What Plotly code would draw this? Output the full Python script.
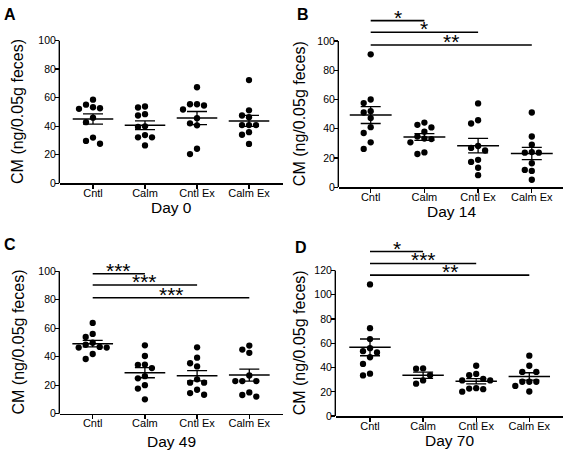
import numpy as np
import plotly.graph_objects as go

# ---------------- data ----------------
groups = ["Cntl", "Calm", "Cntl Ex", "Calm Ex"]
y_ticks_100 = [0, 20, 40, 60, 80, 100]
y_ticks_120 = [0, 20, 40, 60, 80, 100, 120]

day0_cntl = [58.6, 55.1, 53.3, 52.6, 52.2, 46.0, 42.8, 32.0, 29.7, 27.7]
day0_calm = [53.1, 53.8, 48.4, 47.5, 39.5, 39.9, 32.2, 32.2, 33.8, 26.5]
day0_cntl_ex = [67.3, 55.4, 54.5, 55.4, 51.7, 45.6, 42.0, 40.6, 24.2, 20.5]
day0_calm_ex = [72.3, 51.1, 47.5, 46.3, 40.8, 40.8, 40.8, 35.8, 34.0, 27.6]

day14_cntl = [90.9, 60.0, 57.6, 52.0, 51.1, 47.3, 41.1, 37.1, 30.7, 26.2]
day14_calm = [44.2, 42.7, 40.9, 38.0, 34.7, 33.3, 32.9, 30.7, 23.8, 22.7]
day14_cntl_ex = [57.3, 45.8, 43.6, 28.2, 26.9, 25.1, 18.7, 17.3, 13.3, 8.2]
day14_calm_ex = [51.1, 34.7, 29.1, 24.0, 23.6, 23.6, 16.4, 11.8, 11.1, 5.1]

day49_cntl = [63.7, 56.0, 53.9, 49.8, 48.4, 46.9, 46.4, 46.4, 41.9, 38.4]
day49_calm = [48.0, 40.5, 34.5, 34.3, 32.0, 26.3, 24.8, 20.0, 17.6, 10.1]
day49_cntl_ex = [46.6, 39.3, 35.4, 33.2, 24.1, 21.8, 21.8, 16.8, 14.5, 13.3]
day49_calm_ex = [47.8, 45.0, 42.7, 26.8, 22.9, 22.9, 22.9, 14.9, 13.1, 12.0]

day70_cntl = [108.5, 72.5, 63.5, 56.0, 53.5, 52.5, 48.5, 43.0, 35.0, 33.5]
day70_calm = [39.3, 39.1, 33.7, 29.4, 26.7]
day70_cntl_ex = [41.5, 34.8, 33.7, 30.7, 29.4, 29.4, 23.0, 22.7, 22.2, 20.1]
day70_calm_ex = [49.8, 41.5, 36.4, 36.4, 28.3, 28.3, 28.3, 24.9, 20.3]

day_titles = ["Day 0", "Day 14", "Day 49", "Day 70"]
panel_letters = ["A", "B", "C", "D"]

# significance comparisons: (group i, group j, label, bar height in data units)
sig_day14 = [(0, 1, "*", 114), (0, 2, "*", 106), (0, 3, "**", 97.3)]
sig_day49 = [(0, 1, "***", 98.2), (0, 2, "***", 90.3), (0, 3, "***", 81.4)]
sig_day70 = [(0, 1, "*", 135.6), (0, 2, "***", 125.8), (0, 3, "**", 116.2)]

# ---------------- layout geometry (pixels) ----------------
W, H = 565, 464
FONT = "Liberation Sans, Arial, Helvetica, sans-serif"

panels = [
    dict(series=[day0_cntl, day0_calm, day0_cntl_ex, day0_calm_ex], ticks=y_ticks_100, sig=[],
         left=60, right=283, cat0=93, step=52, py0=182, ptop=35.5, ymax=100,
         ytitle=(18, None), xtitle=(171.5, 207), letter=(2, 9)),
    dict(series=[day14_cntl, day14_calm, day14_cntl_ex, day14_calm_ex], ticks=y_ticks_100, sig=sig_day14,
         left=339, right=563, cat0=370.7, step=53.7, py0=186, ptop=36, ymax=118,
         ytitle=(299, None), xtitle=(451, 211), letter=(295, 9)),
    dict(series=[day49_cntl, day49_calm, day49_cntl_ex, day49_calm_ex], ticks=y_ticks_100, sig=sig_day49,
         left=60, right=283, cat0=92.7, step=52.2, py0=418.5, ptop=272.3, ymax=102,
         ytitle=(18, None), xtitle=(171.5, 447.5), letter=(2, 244.5)),
    dict(series=[day70_cntl, day70_calm, day70_cntl_ex, day70_calm_ex], ticks=y_ticks_120, sig=sig_day70,
         left=336, right=563, cat0=370, step=53.1, py0=421, ptop=271.5, ymax=140,
         ytitle=(299, None), xtitle=(449.5, 446), letter=(293, 248)),
]


def fx(p):
    return p / W


def fy(p):
    return (H - p) / H


def swarm(vals, ppu, step_px, dot_px=7.0, slot_px=7.0):
    vals = np.asarray(vals, dtype=float)
    order = np.argsort(-vals, kind="stable")
    placed = {}
    offs = np.zeros(len(vals))
    for i in order:
        y = vals[i] * ppu
        for k in [0, -1, 1, -2, 2, -3, 3, -4, 4]:
            if all(abs(y - yy) >= dot_px for yy in placed.get(k, [])):
                placed.setdefault(k, []).append(y)
                offs[i] = k * slot_px / step_px
                break
    return offs


fig = go.Figure()
layout = dict(width=W, height=H, margin=dict(l=0, r=0, t=0, b=0),
              paper_bgcolor="white", plot_bgcolor="white", showlegend=False,
              hovermode=False, font=dict(family=FONT, color="black"))
shapes = []
annotations = []

for k, p in enumerate(panels):
    sfx = "" if k == 0 else str(k + 1)
    xa, ya = "x" + sfx, "y" + sfx
    top_tick = p["ticks"][-1]
    ppu = (p["py0"] - p["ptop"]) / top_tick
    py_top = p["py0"] - p["ymax"] * ppu
    xr = [(p["left"] - p["cat0"]) / p["step"], (p["right"] - p["cat0"]) / p["step"]]

    layout["xaxis" + sfx] = dict(
        domain=[fx(p["left"]), fx(p["right"])], range=xr, anchor=ya,
        tickmode="array", tickvals=list(range(len(groups))), ticktext=groups,
        showline=True, linecolor="black", linewidth=1.4,
        ticks="outside", ticklen=4, tickwidth=1.3, tickcolor="black",
        ticklabelstandoff=-5,
        showgrid=False, zeroline=False, tickfont=dict(size=11, family=FONT, color="black"),
        fixedrange=True)
    layout["yaxis" + sfx] = dict(
        domain=[fy(p["py0"]), fy(py_top)], range=[0, p["ymax"]], anchor=xa,
        tickmode="array", tickvals=p["ticks"], ticktext=[str(t) for t in p["ticks"]],
        showline=False, ticks="outside", ticklen=4, tickwidth=1.3, tickcolor="black",
        ticklabelstandoff=-3,
        showgrid=False, zeroline=False, tickfont=dict(size=10.5, family=FONT, color="black"),
        fixedrange=True)

    # y axis line only from 0 to top tick
    shapes.append(dict(type="line", xref="paper", yref=ya,
                       x0=fx(p["left"] - 0.7), x1=fx(p["left"] - 0.7), y0=0, y1=top_tick,
                       line=dict(color="black", width=1.4)))

    for gi, vals in enumerate(p["series"]):
        v = np.asarray(vals, dtype=float)
        offs = swarm(v, ppu, p["step"])
        fig.add_trace(go.Scatter(x=gi + offs, y=v, mode="markers", xaxis=xa, yaxis=ya,
                                 marker=dict(size=6.3, color="black"), hoverinfo="skip",
                                 cliponaxis=False))
        m = v.mean()
        sem = v.std(ddof=1) / np.sqrt(len(v))
        fig.add_trace(go.Scatter(x=[gi - 0.39, gi + 0.39], y=[m, m], mode="lines",
                                 xaxis=xa, yaxis=ya, line=dict(color="black", width=1.5),
                                 hoverinfo="skip"))
        fig.add_trace(go.Scatter(x=[gi], y=[m], mode="markers", xaxis=xa, yaxis=ya,
                                 marker=dict(size=1, color="rgba(0,0,0,0)"),
                                 error_y=dict(type="data", array=[sem], width=10,
                                              thickness=1.3, color="black"),
                                 hoverinfo="skip"))

    for (i, j, lab, h) in p["sig"]:
        shapes.append(dict(type="line", xref=xa, yref=ya, x0=i, x1=j, y0=h, y1=h,
                           line=dict(color="black", width=1.6)))
        annotations.append(dict(x=(i + j) / 2, y=h, xref=xa, yref=ya, text=lab,
                                showarrow=False, xanchor="center", yanchor="bottom",
                                yshift=-10, font=dict(size=21, family=FONT, color="black")))

    # y axis title
    annotations.append(dict(x=fx(p["ytitle"][0]), y=fy((p["py0"] + p["ptop"]) / 2),
                            xref="paper", yref="paper", text="CM (ng/0.05g feces)",
                            textangle=-90, showarrow=False, xanchor="center", yanchor="middle",
                            font=dict(size=16, family=FONT, color="black")))
    # x axis title
    annotations.append(dict(x=fx(p["xtitle"][0]), y=fy(p["xtitle"][1]),
                            xref="paper", yref="paper", text=day_titles[k],
                            showarrow=False, xanchor="center", yanchor="middle",
                            font=dict(size=15.5, family=FONT, color="black")))
    # panel letter
    annotations.append(dict(x=fx(p["letter"][0]), y=fy(p["letter"][1]),
                            xref="paper", yref="paper", text="<b>" + panel_letters[k] + "</b>",
                            showarrow=False, xanchor="left", yanchor="middle",
                            font=dict(size=16, family=FONT, color="black")))

layout["shapes"] = shapes
layout["annotations"] = annotations
fig.update_layout(**layout)
fig.write_html("out.html", config={"displayModeBar": False, "staticPlot": True},
               post_script="document.body.style.margin='0';document.body.style.overflow='hidden';")
